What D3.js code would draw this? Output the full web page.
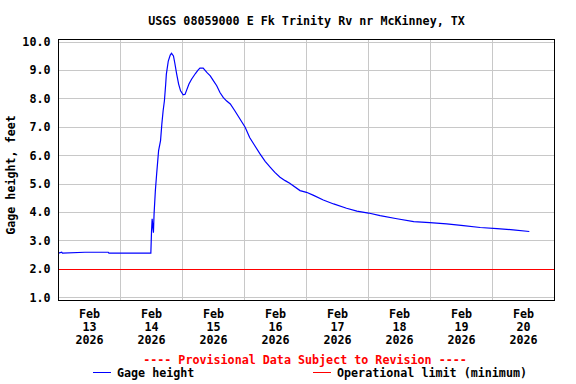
<!DOCTYPE html>
<html>
<head>
<meta charset="utf-8">
<script src="https://cdn.jsdelivr.net/npm/d3@7"></script>
<style>
  body { margin: 0; background: #fff; }
  text { font-family: "DejaVu Sans Mono", "Liberation Mono", monospace; font-weight: bold; font-size: 11.7px; }
</style>
</head>
<body>
<div id="chart"></div>
<script>
// gage height readings (feet)
const times = [
  "2026-02-13 00:00", "2026-02-13 01:15", "2026-02-13 01:30", "2026-02-13 10:15", "2026-02-13 19:15",
  "2026-02-13 19:30", "2026-02-14 11:45", "2026-02-14 12:00", "2026-02-14 12:15", "2026-02-14 12:30",
  "2026-02-14 12:45", "2026-02-14 13:00", "2026-02-14 13:30", "2026-02-14 14:00", "2026-02-14 14:45",
  "2026-02-14 15:30", "2026-02-14 16:00", "2026-02-14 16:30", "2026-02-14 17:00", "2026-02-14 17:30",
  "2026-02-14 17:45", "2026-02-14 18:30", "2026-02-14 19:15", "2026-02-14 19:45", "2026-02-14 20:30",
  "2026-02-14 21:00", "2026-02-14 21:45", "2026-02-14 22:30", "2026-02-14 23:15", "2026-02-15 00:15",
  "2026-02-15 01:00", "2026-02-15 01:30", "2026-02-15 02:30", "2026-02-15 03:30", "2026-02-15 05:00",
  "2026-02-15 06:00", "2026-02-15 06:45", "2026-02-15 08:00", "2026-02-15 09:30", "2026-02-15 10:45",
  "2026-02-15 12:00", "2026-02-15 13:15", "2026-02-15 14:30", "2026-02-15 15:45", "2026-02-15 17:00",
  "2026-02-15 18:30", "2026-02-15 20:15", "2026-02-15 22:15", "2026-02-16 00:15", "2026-02-16 02:00",
  "2026-02-16 04:00", "2026-02-16 06:00", "2026-02-16 08:00", "2026-02-16 10:00", "2026-02-16 11:45",
  "2026-02-16 13:45", "2026-02-16 15:45", "2026-02-16 17:30", "2026-02-16 21:30", "2026-02-17 00:00",
  "2026-02-17 02:45", "2026-02-17 06:30", "2026-02-17 10:30", "2026-02-17 15:30", "2026-02-17 19:30",
  "2026-02-18 00:00", "2026-02-18 04:30", "2026-02-18 11:00", "2026-02-18 17:30", "2026-02-18 23:45",
  "2026-02-19 06:15", "2026-02-19 12:45", "2026-02-19 19:15", "2026-02-20 01:45", "2026-02-20 08:00",
  "2026-02-20 14:15"
];
const gageFeet = [
  2.57, 2.60, 2.57, 2.60, 2.60,
  2.57, 2.57, 3.31, 3.78, 3.50,
  3.29, 3.96, 4.77, 5.36, 6.18,
  6.53, 7.11, 7.58, 7.93, 8.52,
  8.87, 9.33, 9.54, 9.60, 9.51,
  9.27, 8.87, 8.52, 8.28, 8.14,
  8.16, 8.28, 8.52, 8.69, 8.89,
  9.01, 9.08, 9.08, 8.92, 8.81,
  8.63, 8.46, 8.22, 8.05, 7.93,
  7.82, 7.58, 7.29, 7.00, 6.64,
  6.35, 6.06, 5.80, 5.59, 5.41,
  5.24, 5.12, 5.03, 4.77, 4.71,
  4.60, 4.44, 4.30, 4.15, 4.05,
  3.98, 3.89, 3.78, 3.68, 3.64,
  3.60, 3.54, 3.47, 3.43, 3.39,
  3.33
];
const operationalLimit = 2.0;
const yTicks = [1, 2, 3, 4, 5, 6, 7, 8, 9, 10];
const dayLabels = ["13", "14", "15", "16", "17", "18", "19", "20"];

const parseTime = d3.timeParse("%Y-%m-%d %H:%M");
const data = times.map((t, i) => ({ date: parseTime(t), value: gageFeet[i] }));

const width = 576, height = 384;
const plot = { left: 58.5, right: 554.5, top: 39.5, bottom: 300.5 };

const svg = d3.select("#chart").append("svg")
    .attr("width", width)
    .attr("height", height);

const x = d3.scaleTime()
    .domain([parseTime("2026-02-13 00:00"), parseTime("2026-02-21 00:00")])
    .range([plot.left, plot.right]);

const y = d3.scaleLinear()
    .domain([1, 10])
    .range([297.7, 42]);

const snap = v => Math.round(v - 0.5) + 0.5;

// title
svg.append("text")
    .attr("x", (plot.left + plot.right) / 2)
    .attr("y", 24.5)
    .attr("text-anchor", "middle")
    .text("USGS 08059000 E Fk Trinity Rv nr McKinney, TX");

// horizontal grid
svg.append("g").selectAll("line")
    .data(yTicks)
    .join("line")
    .attr("x1", plot.left).attr("x2", plot.right)
    .attr("y1", d => snap(y(d))).attr("y2", d => snap(y(d)))
    .attr("stroke", "#c8c8c8");

// vertical grid at midnights
const midnights = d3.timeDay.range(parseTime("2026-02-14 00:00"), parseTime("2026-02-21 00:00"));
svg.append("g").selectAll("line")
    .data(midnights)
    .join("line")
    .attr("x1", d => snap(x(d))).attr("x2", d => snap(x(d)))
    .attr("y1", plot.top).attr("y2", plot.bottom)
    .attr("stroke", "#c8c8c8");

// y tick labels
svg.append("g").selectAll("text")
    .data(yTicks)
    .join("text")
    .attr("x", 50.5)
    .attr("y", d => y(d) + 4)
    .attr("text-anchor", "end")
    .text(d => d3.format(".1f")(d));

// y axis title
svg.append("text")
    .attr("transform", "translate(14.5,175) rotate(-90)")
    .attr("text-anchor", "middle")
    .text("Gage height, feet");

// x labels at noon of each day
const noons = dayLabels.map(d => parseTime(`2026-02-${d} 12:00`));
const xl = svg.append("g").selectAll("text")
    .data(noons)
    .join("text")
    .attr("text-anchor", "middle");
xl.append("tspan").attr("x", d => x(d)).attr("y", 318).text("Feb");
xl.append("tspan").attr("x", d => x(d)).attr("y", 331).text((d, i) => dayLabels[i]);
xl.append("tspan").attr("x", d => x(d)).attr("y", 344).text("2026");

// operational limit
svg.append("line")
    .attr("x1", plot.left).attr("x2", plot.right)
    .attr("y1", snap(y(operationalLimit))).attr("y2", snap(y(operationalLimit)))
    .attr("stroke", "#ff0000");

// gage height line
const line = d3.line()
    .x(d => x(d.date))
    .y(d => y(d.value));

svg.append("path")
    .datum(data)
    .attr("d", line)
    .attr("fill", "none")
    .attr("stroke", "#0000ff")
    .attr("stroke-width", 1.2);

// plot frame
svg.append("rect")
    .attr("x", plot.left).attr("y", plot.top)
    .attr("width", plot.right - plot.left)
    .attr("height", plot.bottom - plot.top)
    .attr("fill", "none")
    .attr("stroke", "#000");

// provisional note
svg.append("text")
    .attr("x", 305)
    .attr("y", 363.5)
    .attr("text-anchor", "middle")
    .attr("fill", "#ff0000")
    .text("---- Provisional Data Subject to Revision ----");

// legend
const legend = [
  { label: "Gage height", color: "#0000ff", x: 93 },
  { label: "Operational limit (minimum)", color: "#ff0000", x: 313 }
];
const lg = svg.append("g").selectAll("g")
    .data(legend)
    .join("g");
lg.append("line")
    .attr("x1", d => d.x).attr("x2", d => d.x + 18)
    .attr("y1", 372.5).attr("y2", 372.5)
    .attr("stroke", d => d.color);
lg.append("text")
    .attr("x", d => d.x + 24)
    .attr("y", 376.7)
    .text(d => d.label);
</script>
</body>
</html>
